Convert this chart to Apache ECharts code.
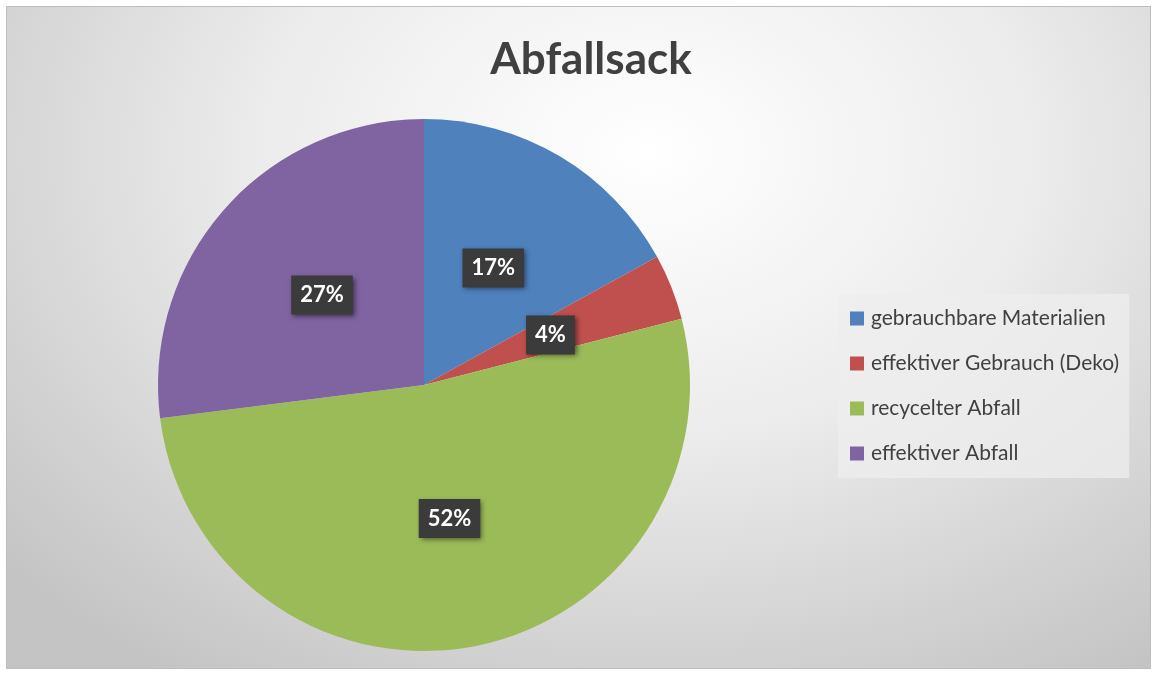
<!DOCTYPE html>
<html>
<head>
    <meta charset="utf-8">
    <script src="https://cdn.jsdelivr.net/npm/echarts@6/dist/echarts.min.js"></script>
    <style>
        html, body { margin: 0; padding: 0; background: #fff; }
        #main {
            position: absolute; left: 6px; top: 6px;
            width: 1143px; height: 661px;
            border: 1px solid #bdbdbd;
            background: radial-gradient(ellipse 75% 95% at 56% 22%, #ffffff 0%, #ececec 45%, #d2d2d2 80%, #c4c4c4 100%);
        }
    </style>
</head>
<body>
    <div id="main"></div>
    <script type="text/javascript">
        var categories = ['gebrauchbare Materialien', 'effektiver Gebrauch (Deko)', 'recycelter Abfall', 'effektiver Abfall'];
        var values = [17, 4, 52, 27];
        var colors = ['#4F81BD', '#C0504D', '#9BBB59', '#8064A2'];

        var myChart = echarts.init(document.getElementById('main'));

        var pieData = [];
        for (var i = 0; i < categories.length; i++) {
            pieData.push({ name: categories[i], value: values[i], itemStyle: { color: colors[i] } });
        }

        var option = {
            backgroundColor: 'transparent',
            title: {
                text: 'Abfallsack',
                left: 579,
                top: 26,
                textAlign: 'center',
                textStyle: {
                    fontFamily: 'Lato',
                    fontWeight: 'bold',
                    fontSize: 44,
                    color: '#404040'
                }
            },
            legend: {
                orient: 'vertical',
                left: 831,
                top: 287,
                padding: [14, 10, 14, 12],
                itemGap: 24,
                itemWidth: 14,
                itemHeight: 14,
                icon: 'rect',
                backgroundColor: 'rgba(238,238,238,0.75)',
                data: categories,
                textStyle: {
                    fontFamily: 'Lato',
                    fontSize: 21,
                    color: '#404040',
                    padding: [0, 0, 0, 2]
                }
            },
            series: [{
                type: 'pie',
                center: [417, 378],
                radius: 266,
                startAngle: 90,
                clockwise: true,
                animation: false,
                label: {
                    show: true,
                    position: 'inside',
                    formatter: '{c}%',
                    fontFamily: 'Lato',
                    fontWeight: 'bold',
                    fontSize: 22,
                    color: '#ffffff',
                    backgroundColor: '#3b3b3b',
                    padding: [9, 9, 8, 9],
                    shadowColor: 'rgba(0,0,0,0.5)',
                    shadowBlur: 5,
                    shadowOffsetX: 2,
                    shadowOffsetY: 2
                },
                labelLine: { show: false },
                emphasis: { disabled: true },
                data: pieData
            }]
        };

        myChart.setOption(option);
    </script>
</body>
</html>
